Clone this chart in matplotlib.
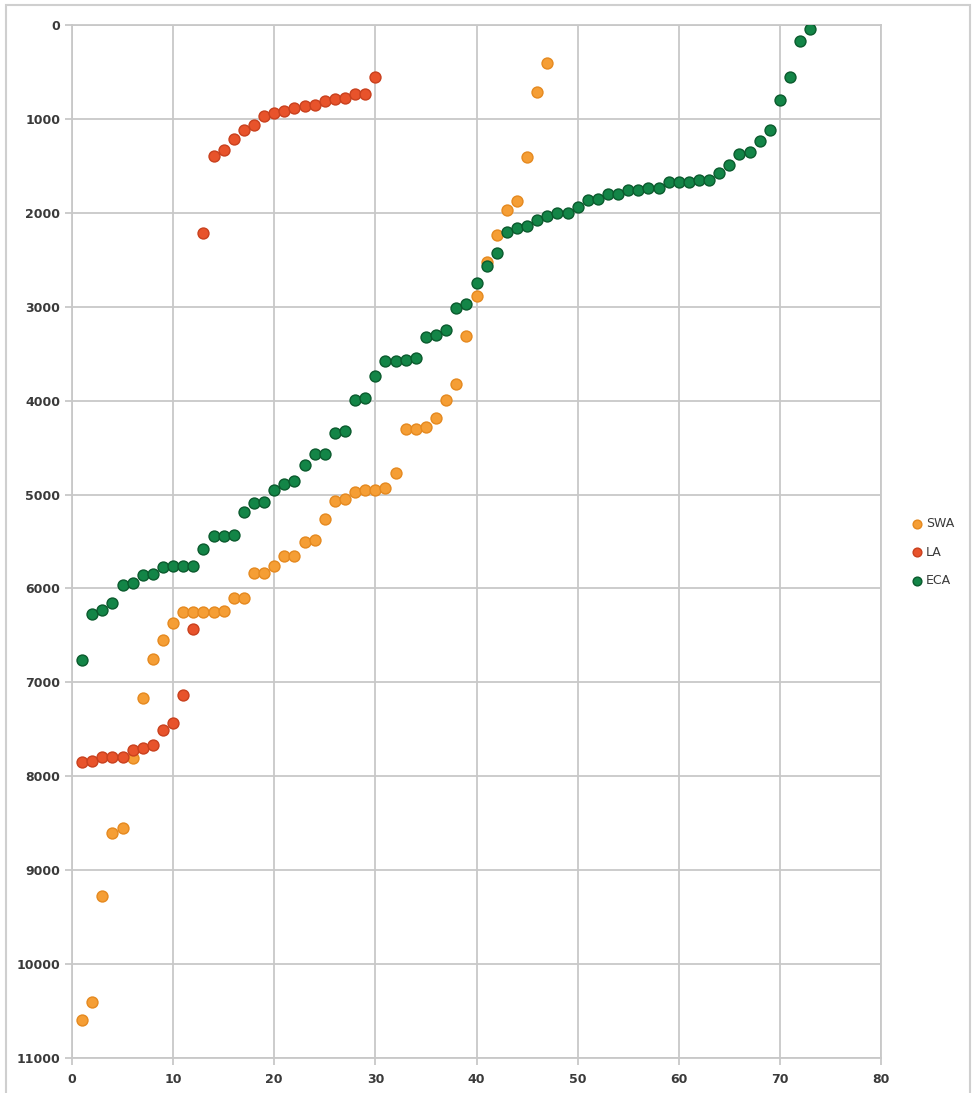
# SWA / LA / ECA scatter (inverted y)

import numpy as np
import matplotlib.pyplot as plt
from matplotlib.patches import Rectangle

swa_y = [10600, 10400, 9280, 8600, 8550, 7810, 7170, 6750, 6550, 6370,
         6250, 6250, 6250, 6250, 6235, 6100, 6100, 5840, 5840, 5760,
         5655, 5655, 5505, 5480, 5260, 5070, 5050, 4975, 4955, 4950,
         4930, 4770, 4300, 4300, 4280, 4180, 3990, 3825, 3310, 2885,
         2520, 2240, 1970, 1875, 1410, 715, 400]

la_y = [7845, 7840, 7800, 7800, 7790, 7725, 7700, 7670, 7505, 7430,
        7132, 6435, 2215, 1392, 1328, 1212, 1122, 1060, 966, 935,
        913, 882, 862, 850, 808, 788, 776, 735, 732, 552]

eca_y = [6762, 6277, 6230, 6152, 5968, 5940, 5862, 5844, 5773, 5762,
         5762, 5762, 5585, 5443, 5443, 5426, 5184, 5089, 5082, 4954,
         4883, 4858, 4688, 4564, 4564, 4344, 4326, 3989, 3975, 3734,
         3582, 3582, 3564, 3546, 3326, 3298, 3245, 3014, 2968, 2748,
         2564, 2429, 2199, 2163, 2138, 2074, 2032, 2004, 2004, 1940,
         1862, 1855, 1798, 1801, 1762, 1755, 1731, 1731, 1667, 1667,
         1667, 1649, 1649, 1578, 1489, 1372, 1348, 1230, 1117, 798,
         550, 167, 46]

series = [
    ("SWA", swa_y, "#F59E35", "#E5891F"),
    ("LA", la_y, "#E8532B", "#C9401D"),
    ("ECA", eca_y, "#138547", "#0A5A2D"),
]

grid_col = "#c8c8c8"
text_col = "#3a3a3a"

fig = plt.figure(figsize=(9.73, 10.93), dpi=100)
ax = fig.add_axes([72/973, 1 - 1058/1093, (881-72)/973, (1058-25)/1093])

for name, ys, face, edge in series:
    xs = np.arange(1, len(ys) + 1)
    ax.scatter(xs, ys, s=62, c=face, edgecolors=edge, linewidths=1.0,
               label=name, zorder=3)

ax.set_xlim(0, 80)
ax.set_ylim(11000, 0)
ax.set_xticks(np.arange(0, 81, 10))
ax.set_yticks(np.arange(0, 11001, 1000))
ax.grid(True, color=grid_col, linewidth=1.3)
ax.set_axisbelow(True)
for s in ax.spines.values():
    s.set_color(grid_col)
    s.set_linewidth(1.3)
ax.tick_params(axis='both', colors=grid_col, length=5, width=1.3,
               labelcolor=text_col, labelsize=9)
ax.tick_params(axis='x', pad=6)
for lab in ax.get_xticklabels() + ax.get_yticklabels():
    lab.set_fontweight('bold')

leg = fig.legend(loc='center left', bbox_to_anchor=(906/973, 1 - 552/1093),
                 frameon=False, fontsize=9, handlelength=1.0,
                 handletextpad=0.2, borderaxespad=0.0, borderpad=0.4,
                 labelspacing=1.25, markerscale=0.8)
for t in leg.get_texts():
    t.set_color(text_col)

# light frame around the whole picture
fig.add_artist(Rectangle((6/973, -0.01), 964/973, 1.01 - 5/1093,
                         transform=fig.transFigure, fill=False,
                         edgecolor="#cfcfcf", linewidth=1.5))

fig.savefig("out.png", dpi=100)
